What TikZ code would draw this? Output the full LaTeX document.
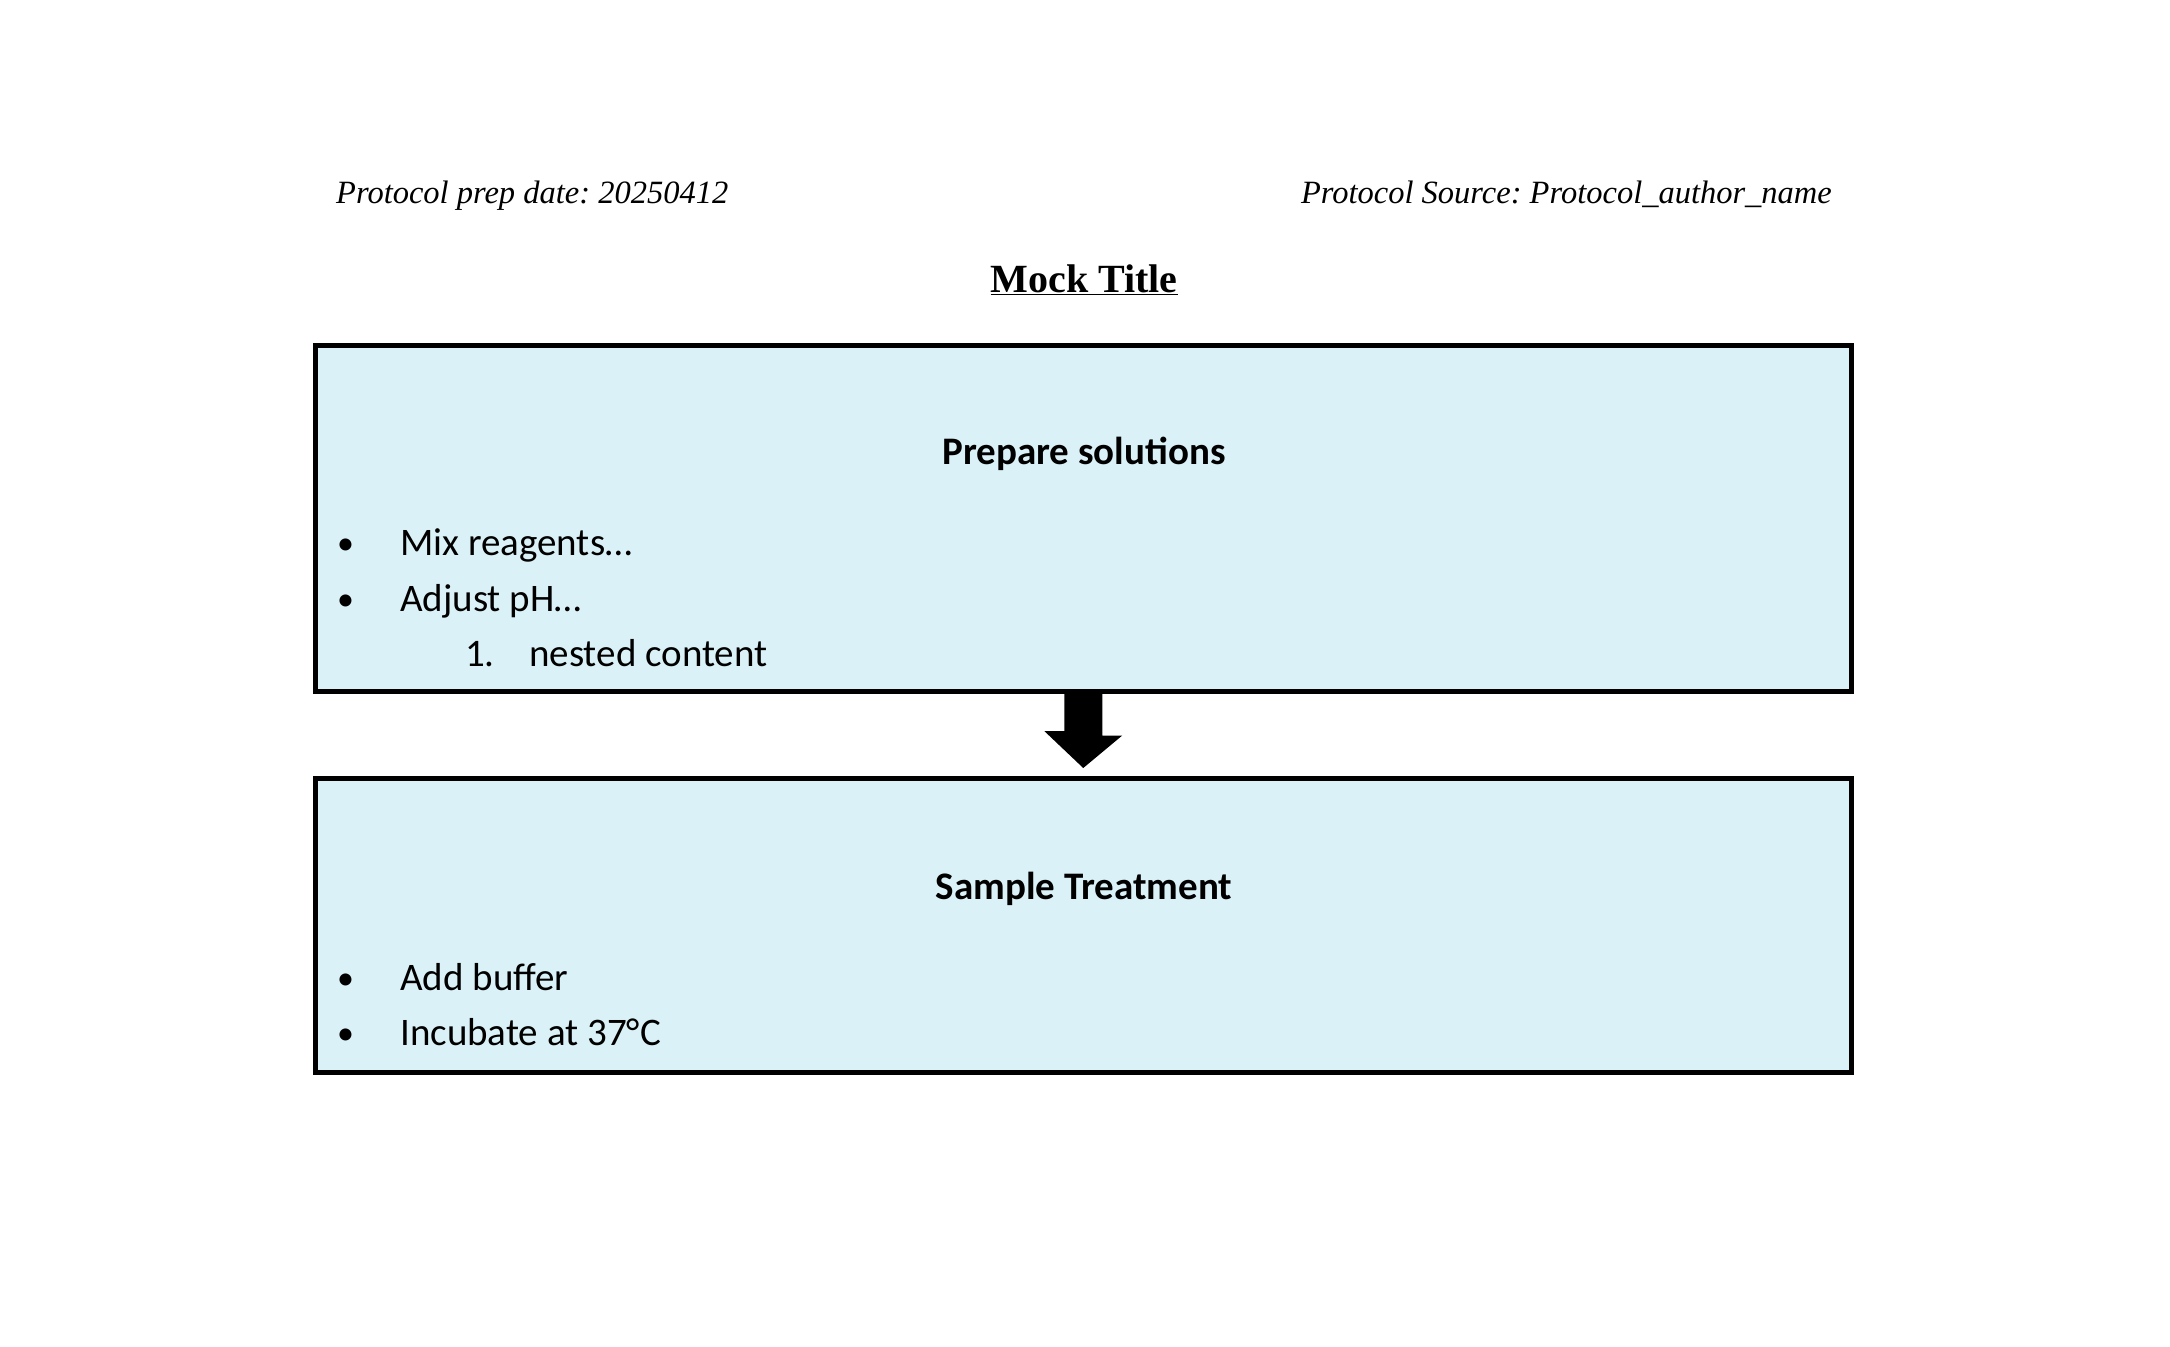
\documentclass[tikz,border=0pt]{standalone}
\usepackage{fontspec}
\setmainfont{Carlito}
\newfontfamily\hdrfont{Liberation Serif}
\usetikzlibrary{arrows.meta}
\definecolor{boxfill}{RGB}{218,242,247}
\frenchspacing
\begin{document}
\begin{tikzpicture}[x=1pt,y=-1pt,
  stepbox/.style={draw=black,line width=4.5pt,fill=boxfill,minimum width=1536pt,inner sep=0pt,anchor=north west},
  body/.style={font=\fontsize{39}{46}\selectfont,inner sep=0pt,anchor=base west},
  bul/.style={font=\fontsize{34}{46}\selectfont,inner sep=0pt,anchor=base west},
  heading/.style={font=\fontsize{39}{46}\selectfont\bfseries,inner sep=0pt,anchor=base},
  hdr/.style={font=\fontsize{32.5}{39}\selectfont\hdrfont\itshape,inner sep=0pt},
  ttl/.style={font=\fontsize{40}{46}\selectfont\hdrfont\bfseries,inner sep=0pt,anchor=base}]
\useasboundingbox[fill=white] (0,0) rectangle (2170,1346);
% header
\node[hdr,anchor=base west] (date) at (336,203) {Protocol prep date: 20250412};
\node[hdr,anchor=base east] (source) at (1832,203) {Protocol Source: Protocol\_author\_name};
\node[ttl] (title) at (1084,292) {\underline{Mock Title}};
% boxes
\node[stepbox,minimum height=346pt] (b1) at (313,343) {};
\node[stepbox,minimum height=294pt] (b2) at (313,776) {};
% box 1 text
\node[heading] (h1) at (1084,464) {Prepare solutions};
\node[bul] (b1i1dot) at (337,554) {•};
\node[body] (b1i1) at (400,555) {Mix reagents…};
\node[bul] (b1i2dot) at (337,610) {•};
\node[body] (b1i2) at (400,611) {Adjust pH…};
\node[body] (b1n1num) at (465,666) {1.};
\node[body] (b1n1) at (529,666) {nested content};
% box 2 text
\node[heading] (h2) at (1084,899) {Sample Treatment};
\node[bul] (b2i1dot) at (337,989) {•};
\node[body] (b2i1) at (400,990) {Add buffer};
\node[bul] (b2i2dot) at (337,1044) {•};
\node[body] (b2i2) at (400,1045) {Incubate at 37°C};
% arrow
\coordinate (tip) at ([yshift=8pt]b2.north);
\fill[black] ([xshift=-19pt]b1.south) -- ([xshift=19pt]b1.south) -- ++(0,42) -- ++(20,0) -- (tip) -- ++(-39,-37) -- ++(20,0) -- cycle;
\end{tikzpicture}
\end{document}
